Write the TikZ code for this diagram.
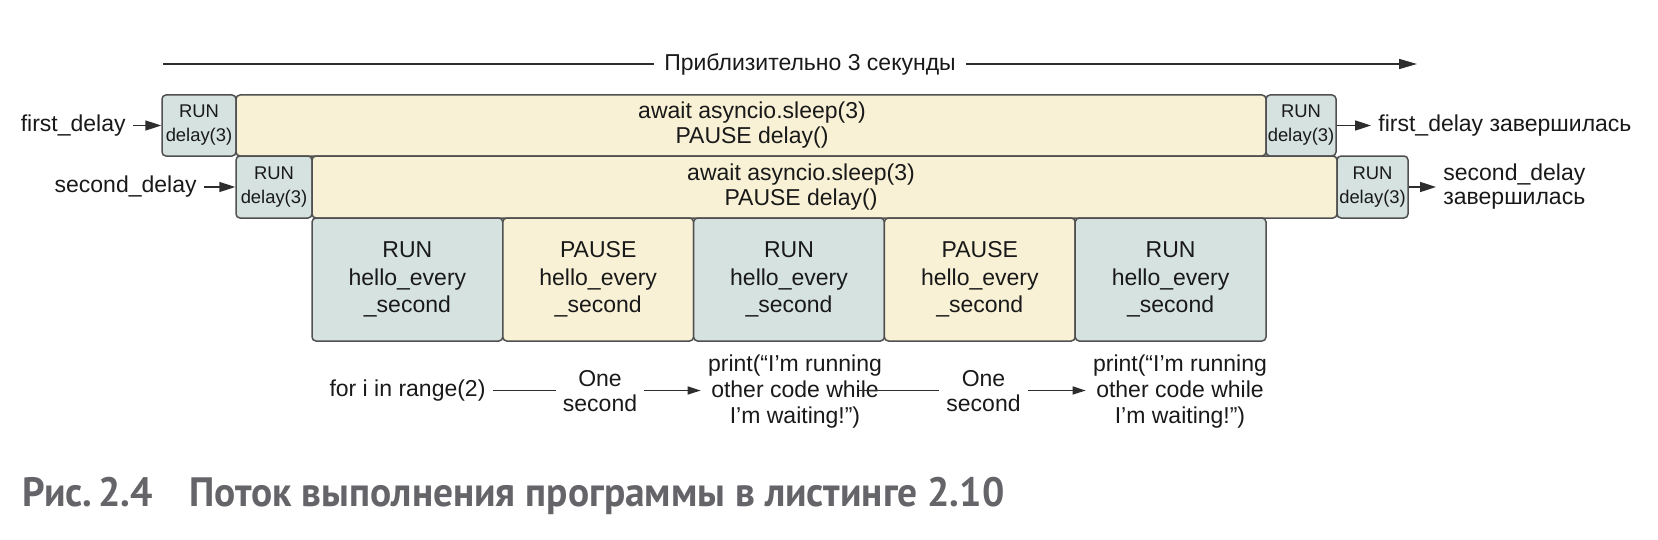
\documentclass[tikz,border=0pt]{standalone}
\usepackage{fontspec}
\usepackage{graphicx}
\setmainfont{Liberation Sans}
\newfontfamily\capfont{PT Sans}
\usetikzlibrary{arrows.meta}
\definecolor{runfill}{RGB}{213,226,224}
\definecolor{pausefill}{RGB}{248,241,213}
\definecolor{bordercol}{RGB}{80,80,80}
\definecolor{txt}{RGB}{25,25,25}
\definecolor{linecol}{RGB}{45,45,45}
\definecolor{capgray}{RGB}{100,100,105}
\tikzset{
  box/.style={draw=bordercol, line width=0.75pt, rounded corners=2pt, inner sep=0pt, align=center, text=txt},
  runs/.style={box, fill=runfill, font=\fontsize{9.2}{12}\selectfont},
  wide/.style={box, fill=pausefill},
  widetext/.style={inner sep=0pt, align=center, text=txt, font=\fontsize{11.5}{12.5}\selectfont},
  hello/.style={box, font=\fontsize{11.5}{13.75}\selectfont, minimum width=95.4pt, minimum height=61.5pt},
  lbl/.style={inner xsep=3.5pt, inner ysep=0pt, text=txt, font=\fontsize{11.5}{12}\selectfont},
  blbl/.style={lbl, align=center, font=\fontsize{11.5}{12.5}\selectfont},
  arr/.style={-{Triangle[length=8pt,width=5pt]}, line width=0.8pt, draw=linecol},
  barr/.style={-{Triangle[length=6.5pt,width=4pt]}, line width=0.8pt, draw=linecol},
  ln/.style={line width=0.8pt, draw=linecol}
}
\begin{document}
\begin{tikzpicture}[x=0.5pt,y=-0.5pt]
\useasboundingbox (0,0) rectangle (1658,540);

% top duration arrow
\coordinate (tl) at (163,64);
\coordinate (tr) at (1417,64);
\node[inner xsep=5pt, inner ysep=0pt, text=txt, font=\fontsize{11.5}{12}\selectfont] (dur) at (810,64) {Приблизительно 3 секунды};
\draw[ln] (tl) -- (dur.west);
\draw[-{Triangle[length=9pt,width=5pt]}, line width=0.8pt, draw=linecol] (dur.east) -- (tr);

% row 1
\node[runs, minimum width=37pt, minimum height=30.5pt] (r1a) at (199,125.5) {RUN\\delay(3)};
\node[wide, minimum width=515pt, minimum height=30.5pt] (p1) at (751,125.5) {};
\node[widetext] (p1t) at (752,125.5) {await asyncio.sleep(3)\\PAUSE delay()};
\node[runs, minimum width=35pt, minimum height=30.5pt] (r1b) at (1301,125.5) {RUN\\delay(3)};

% row 2
\node[runs, minimum width=38pt, minimum height=31pt] (r2a) at (274,187) {RUN\\delay(3)};
\node[wide, minimum width=512.5pt, minimum height=31pt] (p2) at (824.5,187) {};
\node[widetext] (p2t) at (801,187) {await asyncio.sleep(3)\\PAUSE delay()};
\node[runs, minimum width=35.5pt, minimum height=31pt] (r2b) at (1372.5,187) {RUN\\delay(3)};

% row 3
\node[hello, fill=runfill]   (h1) at (407.4,279.5) {RUN\\hello\_every\\\_second};
\node[hello, fill=pausefill] (h2) at (598.2,279.5) {PAUSE\\hello\_every\\\_second};
\node[hello, fill=runfill]   (h3) at (789,279.5) {RUN\\hello\_every\\\_second};
\node[hello, fill=pausefill] (h4) at (979.8,279.5) {PAUSE\\hello\_every\\\_second};
\node[hello, fill=runfill]   (h5) at (1170.6,279.5) {RUN\\hello\_every\\\_second};

% side labels
\node[lbl, anchor=east] (fd) at (133,125.5) {first\_delay};
\node[lbl, anchor=east] (sd) at (204,187) {second\_delay};
\node[lbl, anchor=west] (fdone) at (1371,125.5) {first\_delay завершилась};
\node[lbl, anchor=west, align=left] (sdone) at (1436,187) {second\_delay\\завершилась};
\draw[arr] (fd.east) -- (r1a.west);
\draw[arr] (sd.east) -- (r2a.west);
\draw[arr] (r1b.east) -- (fdone.west);
\draw[arr] (r2b.east) -- (sdone.west);

% bottom flow
\node[blbl] (for) at (407.5,390.5) {for i in range(2)};
\node[blbl] (one1) at (600,391.5) {One\\second};
\node[blbl, font=\fontsize{11.5}{13}\selectfont] (pr1) at (795,392) {print(“I’m running\\other code while\\I’m waiting!”)};
\node[blbl] (one2) at (983.5,391.5) {One\\second};
\node[blbl, font=\fontsize{11.5}{13}\selectfont] (pr2) at (1180,392) {print(“I’m running\\other code while\\I’m waiting!”)};
\draw[ln] (for.east) -- (for.east -| one1.west);
\draw[barr] (one1.east |- for.east) -- (for.east -| pr1.west);
\draw[ln] ([xshift=-15pt]pr1.east |- for.east) -- (for.east -| one2.west);
\draw[barr] (one2.east |- for.east) -- (for.east -| pr2.west);

% caption
\node[anchor=base west, inner sep=0pt, text=capgray, font=\capfont\bfseries\fontsize{20.5}{24}\selectfont] (cap) at (22,506)
  {\resizebox{491pt}{\height}{Рис.\hspace{3pt}2.4\hspace{19pt}Поток выполнения программы в листинге 2.10}};
\end{tikzpicture}
\end{document}
